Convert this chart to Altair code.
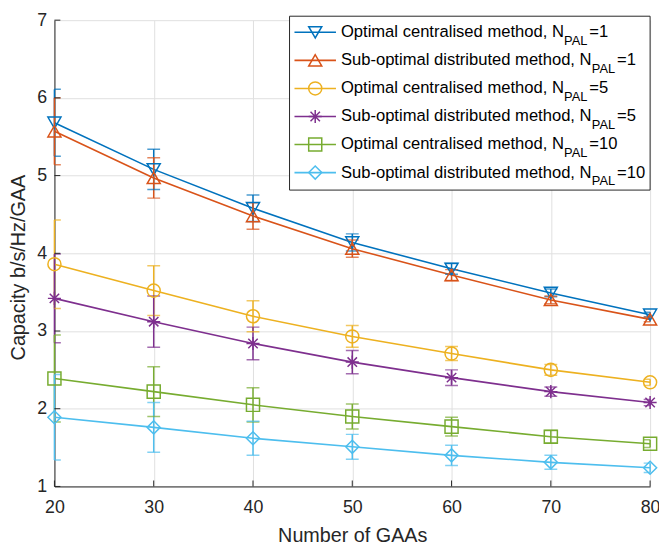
import altair as alt
import pandas as pd

# ---- data ----
gaas = [20, 30, 40, 50, 60, 70, 80]
x_ticks = [20, 30, 40, 50, 60, 70, 80]
y_ticks = [1, 2, 3, 4, 5, 6, 7]

series = [
    "Optimal centralised method, NPAL=1",
    "Sub-optimal distributed method, NPAL=1",
    "Optimal centralised method, NPAL=5",
    "Sub-optimal distributed method, NPAL=5",
    "Optimal centralised method, NPAL=10",
    "Sub-optimal distributed method, NPAL=10",
]
legend_main = [
    "Optimal centralised method, N",
    "Sub-optimal distributed method, N",
    "Optimal centralised method, N",
    "Sub-optimal distributed method, N",
    "Optimal centralised method, N",
    "Sub-optimal distributed method, N",
]
legend_sub = "PAL"
n_pal = [1, 1, 5, 5, 10, 10]

opt1 = [5.68, 5.08, 4.58, 4.14, 3.80, 3.49, 3.21]
sub1 = [5.57, 4.97, 4.48, 4.06, 3.72, 3.40, 3.15]
opt5 = [3.86, 3.52, 3.19, 2.93, 2.71, 2.50, 2.34]
sub5 = [3.42, 3.12, 2.84, 2.60, 2.40, 2.22, 2.08]
opt10 = [2.39, 2.22, 2.05, 1.90, 1.77, 1.64, 1.55]
sub10 = [1.89, 1.76, 1.62, 1.51, 1.40, 1.31, 1.24]

err_opt1 = [0.43, 0.26, 0.17, 0.11, 0.07, 0.05, 0.03]
err_sub1 = [0.43, 0.26, 0.17, 0.11, 0.07, 0.05, 0.03]
err_opt5 = [0.57, 0.32, 0.20, 0.14, 0.09, 0.07, 0.04]
err_sub5 = [0.57, 0.33, 0.21, 0.15, 0.10, 0.06, 0.04]
err_opt10 = [0.56, 0.32, 0.22, 0.16, 0.12, 0.08, 0.05]
err_sub10 = [0.55, 0.32, 0.22, 0.16, 0.13, 0.09, 0.06]

values = [opt1, sub1, opt5, sub5, opt10, sub10]
errors = [err_opt1, err_sub1, err_opt5, err_sub5, err_opt10, err_sub10]

# ---- styles ----
colors = ["#0072BD", "#D95319", "#EDB120", "#7E2F8E", "#77AC30", "#4DBEEE"]
asterisk = "M-1,0L1,0M0,-1L0,1M-0.72,-0.72L0.72,0.72M-0.72,0.72L0.72,-0.72"
shapes = ["triangle-down", "triangle-up", "circle", asterisk, "square", "diamond"]
sizes = [175, 175, 150, 150, 100, 170]
FONT = "Liberation Sans"
AX = "#262626"
W, H = 603, 472

rows = []
for s, vals, errs in zip(series, values, errors):
    for xv, yv, ev in zip(gaas, vals, errs):
        rows.append({"series": s, "x": xv, "y": yv, "lo": yv - ev, "hi": yv + ev})
df = pd.DataFrame(rows)

# ---- legend table (layout in pixels) ----
W_ARIAL = {"O": 778, "p": 556, "t": 278, "i": 222, "m": 833, "a": 556, "l": 222,
           " ": 278, "c": 500, "e": 556, "n": 556, "r": 333, "s": 500, "d": 556,
           "h": 556, "o": 556, ",": 278, "N": 722, "S": 667, "u": 556, "b": 556,
           "-": 333, "P": 667, "A": 667, "L": 556}


def text_w(t, fs):
    return sum(W_ARIAL.get(ch, 556) for ch in t) / 1000.0 * fs


LEG_FS = 16.8
SUB_FS = 13
TXT_X = 290
LEG_TOP = -4
leg_rows = []
for i, (s, m, n) in enumerate(zip(series, legend_main, n_pal)):
    cy = LEG_TOP + 16.3 + 28.4 * i
    sx = TXT_X + text_w(m, LEG_FS)
    ex = sx + text_w(legend_sub, SUB_FS) + 1
    leg_rows.append({"series": s, "ly": cy, "lb": cy + 5, "sb": cy + 13,
                     "main": m, "sub": legend_sub, "eq": "=" + str(n),
                     "sx": sx, "ex": ex})
legdf = pd.DataFrame(leg_rows)

color = alt.Color("series:N", scale=alt.Scale(domain=series, range=colors), legend=None)
shape = alt.Shape("series:N", scale=alt.Scale(domain=series, range=shapes), legend=None)
size = alt.Size("series:N", scale=alt.Scale(domain=series, range=sizes), legend=None)

xs = alt.Scale(domain=[20, 80], nice=False, zero=False)
ys = alt.Scale(domain=[1, 7], nice=False, zero=False)
x_axis = alt.Axis(values=x_ticks, title="Number of GAAs", grid=True, labelFlush=False,
                  titleX=W / 2, titleY=50, titleBaseline="middle", labelPadding=12)
y_axis = alt.Axis(values=y_ticks, title="Capacity b/s/Hz/GAA", grid=True, labelFlush=False,
                  titleX=-36, titleY=H / 2 + 14, titleAngle=270,
                  titleAlign="center", titleBaseline="middle", labelPadding=8)


def X(f):
    return alt.X(f, scale=xs, axis=x_axis)


def Y(f):
    return alt.Y(f, scale=ys, axis=y_axis)


base = alt.Chart(df)
lines = base.mark_line(strokeWidth=1.6).encode(x=X("x:Q"), y=Y("y:Q"), color=color, order="x:Q")
bars = base.mark_rule(strokeWidth=1.5).encode(x=X("x:Q"), y=Y("lo:Q"), y2="hi:Q", color=color)
cap_lo = base.mark_tick(orient="horizontal", size=13, thickness=1.5, clip=True).encode(
    x=X("x:Q"), y=Y("lo:Q"), color=color)
cap_hi = base.mark_tick(orient="horizontal", size=13, thickness=1.5, clip=True).encode(
    x=X("x:Q"), y=Y("hi:Q"), color=color)
points = base.mark_point(filled=False, strokeWidth=1.5, opacity=1).encode(
    x=X("x:Q"), y=Y("y:Q"), color=color, shape=shape, size=size)

# inward ticks (MATLAB style)
ytick_df = pd.DataFrame({"ty": y_ticks})
xtick_df = pd.DataFrame({"tx": x_ticks})
yticks = alt.Chart(ytick_df).mark_rule(color=AX, strokeWidth=1).encode(
    y=Y("ty:Q"), x=alt.value(0), x2=alt.value(6))
xticks = alt.Chart(xtick_df).mark_rule(color=AX, strokeWidth=1).encode(
    x=X("tx:Q"), y=alt.value(H), y2=alt.value(H - 6))

# legend
leg_box = alt.Chart(pd.DataFrame({"k": [0]})).mark_rect(
    fill="white", stroke=AX, strokeWidth=1).encode(
    x=alt.value(238), x2=alt.value(603), y=alt.value(LEG_TOP), y2=alt.value(LEG_TOP + 176))
leg = alt.Chart(legdf)
leg_line = leg.mark_rule(strokeWidth=1.6).encode(
    x=alt.value(243), x2=alt.value(285), y=alt.Y("ly:Q", scale=None), color=color)
leg_pt = leg.mark_point(filled=False, strokeWidth=1.5, opacity=1).encode(
    x=alt.value(264), y=alt.Y("ly:Q", scale=None), color=color, shape=shape, size=size)
leg_txt = leg.mark_text(align="left", baseline="alphabetic", font=FONT, fontSize=LEG_FS,
                        color="black").encode(
    x=alt.value(TXT_X), y=alt.Y("lb:Q", scale=None), text="main:N")
leg_sub = leg.mark_text(align="left", baseline="alphabetic", font=FONT, fontSize=SUB_FS,
                        color="black").encode(
    x=alt.X("sx:Q", scale=None), y=alt.Y("sb:Q", scale=None), text="sub:N")
leg_eq = leg.mark_text(align="left", baseline="alphabetic", font=FONT, fontSize=LEG_FS,
                       color="black").encode(
    x=alt.X("ex:Q", scale=None), y=alt.Y("lb:Q", scale=None), text="eq:N")

chart = alt.layer(
    lines, bars, cap_lo, cap_hi, points, yticks, xticks,
    leg_box, leg_line, leg_pt, leg_txt, leg_sub, leg_eq
).properties(
    width=W, height=H,
    autosize=alt.AutoSizeParams(type="none"),
    padding={"left": 47, "top": 9, "right": 9, "bottom": 59},
    background="white",
).configure_view(stroke=None).configure_axis(
    domainColor=AX, domainWidth=1, gridColor="#dfdfdf", gridWidth=1, ticks=False,
    labelFont=FONT, labelFontSize=18, labelColor=AX,
    titleFont=FONT, titleFontSize=20, titleColor=AX, titleFontWeight="normal",
)

chart.save("out.html", embed_options={"renderer": "svg", "actions": False})
